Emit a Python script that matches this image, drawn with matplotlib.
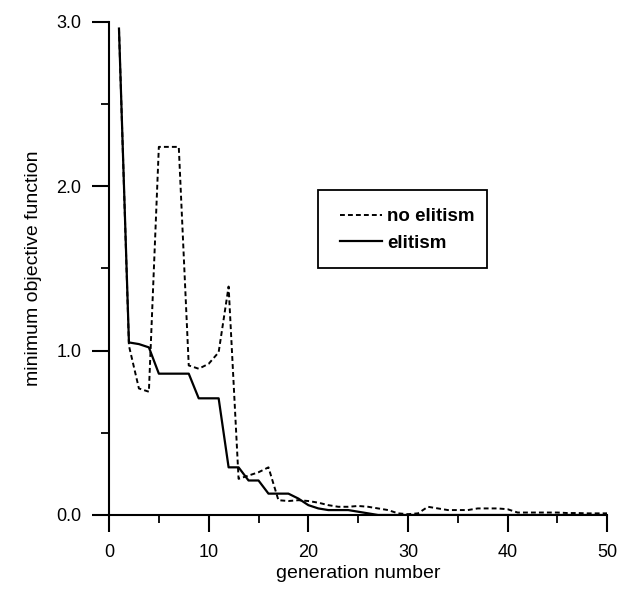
import matplotlib
matplotlib.use("Agg")
import matplotlib.pyplot as plt
from matplotlib.patches import Rectangle
from matplotlib.ticker import MultipleLocator, FormatStrFormatter

plt.rcParams['font.family'] = ['Liberation Sans', 'DejaVu Sans']

generations = list(range(1, 51))

elitism = [2.96, 1.05, 1.04, 1.02, 0.86, 0.86, 0.86, 0.86, 0.71, 0.71,
           0.71, 0.29, 0.29, 0.21, 0.21, 0.13, 0.13, 0.13, 0.10, 0.06,
           0.04, 0.03, 0.03, 0.03, 0.02, 0.01, 0.0, 0.0, 0.0, 0.0,
           0.0, 0.0, 0.0, 0.0, 0.0, 0.0, 0.0, 0.0, 0.0, 0.0,
           0.0, 0.0, 0.0, 0.0, 0.0, 0.0, 0.0, 0.0, 0.0, 0.0]

no_elitism = [2.96, 1.03, 0.77, 0.75, 2.24, 2.24, 2.24, 0.91, 0.89, 0.92,
              0.99, 1.39, 0.22, 0.24, 0.26, 0.29, 0.09, 0.085, 0.09, 0.085,
              0.075, 0.06, 0.05, 0.05, 0.055, 0.05, 0.04, 0.03, 0.01, 0.005,
              0.01, 0.05, 0.04, 0.03, 0.03, 0.03, 0.04, 0.04, 0.04, 0.035,
              0.015, 0.015, 0.015, 0.015, 0.015, 0.012, 0.012, 0.01, 0.01, 0.01]

series_labels = ["no elitism", "elitism"]
xlabel = "generation number"
ylabel = "minimum objective function"

fig = plt.figure(figsize=(6.18, 5.91), dpi=100)
ax = fig.add_axes([0.1764, 0.1286, 0.8063, 0.8342])

ax.plot(generations, no_elitism, color='black', lw=1.4, ls=(0, (2.5, 1.6)),
        label=series_labels[0])
ax.plot(generations, elitism, color='black', lw=1.6, ls='-',
        label=series_labels[1])

ax.set_xlim(0, 50)
ax.set_ylim(0, 3.0)
ax.xaxis.set_major_locator(MultipleLocator(10))
ax.xaxis.set_minor_locator(MultipleLocator(5))
ax.yaxis.set_major_locator(MultipleLocator(1.0))
ax.yaxis.set_minor_locator(MultipleLocator(0.5))
ax.yaxis.set_major_formatter(FormatStrFormatter('%.1f'))

for s in ['top', 'right']:
    ax.spines[s].set_visible(False)
for s in ['left', 'bottom']:
    ax.spines[s].set_linewidth(1.5)
    ax.spines[s].set_color('black')

ax.tick_params(which='major', direction='out', length=12, width=1.5,
               labelsize=13, colors='black')
ax.tick_params(which='minor', direction='out', length=5.5, width=1.3)
ax.tick_params(axis='x', which='major', pad=9)
ax.tick_params(axis='y', which='major', pad=8)

ax.set_xlabel(xlabel, fontsize=14, labelpad=3)
ax.set_ylabel(ylabel, fontsize=14, labelpad=10)

leg = ax.legend(loc='upper left', bbox_to_anchor=(340 / 618, 1 - 208 / 591),
                bbox_transform=fig.transFigure, frameon=False,
                prop={'size': 13.5, 'weight': 'bold'},
                handlelength=2.24, handletextpad=0.27,
                labelspacing=0.5, borderpad=0, borderaxespad=0)

fig.patches.append(Rectangle((318 / 618, 1 - 268 / 591), 169 / 618, 78 / 591,
                             transform=fig.transFigure, fill=False,
                             edgecolor='black', lw=1.3))

fig.savefig("out.png", dpi=100)
